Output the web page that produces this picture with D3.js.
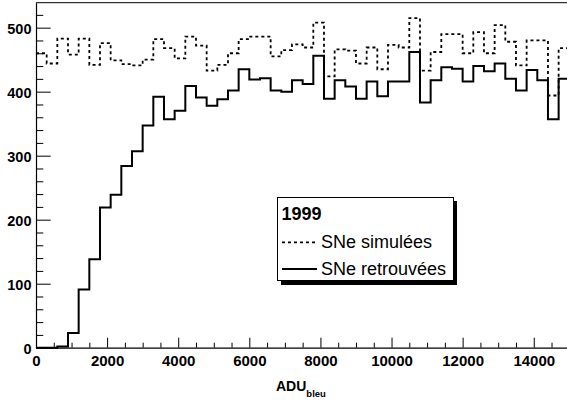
<!DOCTYPE html>
<html><head><meta charset="utf-8">
<script src="https://cdn.jsdelivr.net/npm/d3@7"></script>
<style>
html,body{margin:0;padding:0;background:#fff;}
svg{display:block;font-family:"Liberation Sans",Arial,Helvetica,sans-serif;}
</style></head>
<body>
<svg id="c" width="567" height="402"></svg>
<script>
// bin lower edges: 50 bins of 300 ADU from 0 to 15000
const binWidth = 300;
const nBins = 50;
const simulees = [460,444,483,458,483,442,476,449,443,441,450,482,468,452,486,472,433,442,460,482,486,486,455,465,474,469,508,424,466,464,444,469,435,473,469,515,433,462,490,490,460,493,460,504,478,441,480,480,394,468];
const retrouvees = [0,0,2,23,91,138,219,239,284,307,347,392,357,370,409,391,378,388,402,435,419,421,402,400,418,412,456,389,418,408,389,416,393,416,416,462,383,418,438,436,416,440,432,444,420,402,434,418,357,420];
const xTicks = [0,2000,4000,6000,8000,10000,12000,14000];
const yTicks = [0,100,200,300,400,500];
const legendTitle = "1999";
const legendLabels = ["SNe simulées","SNe retrouvées"];

const svg = d3.select("#c");
const x = d3.scaleLinear().domain([0, 15000]).range([36, 569.3]);
const y = d3.scaleLinear().domain([0, 539]).range([347.7, 2.7]);

// frame
svg.append("line").attr("x1",36).attr("x2",600).attr("y1",2.7).attr("y2",2.7).attr("stroke","#000").attr("stroke-width",1);

// minor ticks
const xMinor = d3.range(0, 15001, 500).filter(v => v % 2000 !== 0);
const yMinor = d3.range(0, 540, 20).filter(v => v % 100 !== 0);
svg.append("g").attr("transform","translate(0,"+y(0)+")")
  .call(d3.axisBottom(x).tickValues(xMinor).tickSizeInner(-5).tickSizeOuter(0).tickFormat(""))
  .call(g=>g.select(".domain").remove());
svg.append("g").attr("transform","translate("+x(0)+",0)")
  .call(d3.axisLeft(y).tickValues(yMinor).tickSizeInner(-7.3).tickSizeOuter(0).tickFormat(""))
  .call(g=>g.select(".domain").remove());

// major axes
const gx = svg.append("g").attr("transform","translate(0,"+y(0)+")")
  .call(d3.axisBottom(x).tickValues(xTicks).tickSizeInner(-10).tickSizeOuter(0).tickPadding(7.5).tickFormat(d3.format("d")));
gx.selectAll("text").attr("font-size",15).attr("font-weight","bold").attr("fill","#000").attr("font-family","Liberation Sans, Arial, sans-serif");
gx.select(".domain").attr("stroke-width",1.2);
const gy = svg.append("g").attr("transform","translate("+x(0)+",0)")
  .call(d3.axisLeft(y).tickValues(yTicks).tickSizeInner(-14.7).tickSizeOuter(0).tickPadding(4.5).tickFormat(d3.format("d")));
gy.selectAll("text").attr("font-size",14.5).attr("font-weight","bold").attr("fill","#000").attr("dy","0.42em").attr("font-family","Liberation Sans, Arial, sans-serif");
gy.select(".domain").attr("stroke-width",1.2);

// histograms
function pts(vals){
  const p = vals.map((v,i)=>[i*binWidth, v]);
  p.push([nBins*binWidth, vals[vals.length-1]]);
  return p;
}
const line = d3.line().x(d=>x(d[0])).y(d=>y(d[1])).curve(d3.curveStepAfter);
svg.append("path").attr("d", line(pts(simulees))).attr("fill","none").attr("stroke","#000").attr("stroke-width",1.8).attr("stroke-dasharray","3,3");
svg.append("path").attr("d", line(pts(retrouvees))).attr("fill","none").attr("stroke","#000").attr("stroke-width",2);

// axis title
const t = svg.append("text").attr("x",276).attr("y",391).attr("font-size",14).attr("font-weight","bold").attr("fill","#000");
t.append("tspan").text("ADU");
t.append("tspan").attr("dy",6).attr("font-size",9.5).text("bleu");

// legend
const L = svg.append("g");
L.append("rect").attr("x",281).attr("y",201).attr("width",176).attr("height",84).attr("fill","#000");
L.append("rect").attr("x",277.5).attr("y",197.5).attr("width",176).attr("height",83).attr("fill","#fff").attr("stroke","#000").attr("stroke-width",1);
L.append("text").attr("x",281.5).attr("y",220).attr("font-size",18).attr("font-weight","bold").text(legendTitle);
L.append("line").attr("x1",282).attr("x2",317).attr("y1",242.3).attr("y2",242.3).attr("stroke","#000").attr("stroke-width",1.8).attr("stroke-dasharray","3,3");
L.append("text").attr("x",321).attr("y",247.5).attr("font-size",18).text(legendLabels[0]);
L.append("line").attr("x1",282).attr("x2",317).attr("y1",269).attr("y2",269).attr("stroke","#000").attr("stroke-width",2);
L.append("text").attr("x",321).attr("y",274.5).attr("font-size",18).text(legendLabels[1]);
</script>
</body></html>
